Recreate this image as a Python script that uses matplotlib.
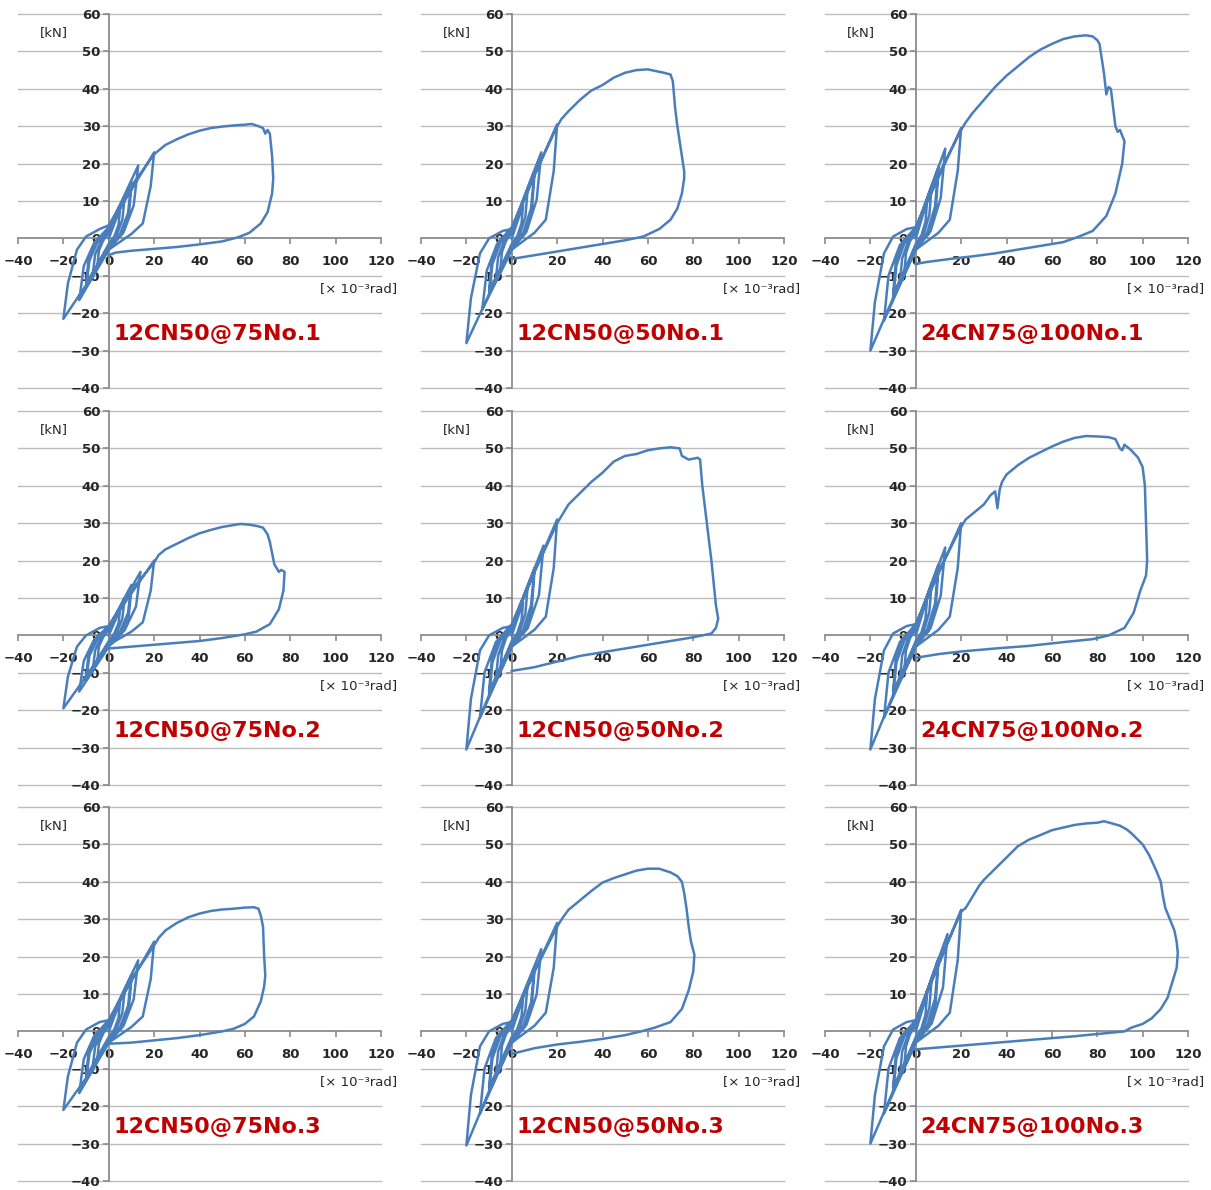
import matplotlib
matplotlib.use("Agg")
import matplotlib.pyplot as plt

# hysteresis curves: (rotation angle x10^-3 rad, load kN)
titles = ["12CN50@75No.1", "12CN50@50No.1", "24CN75@100No.1",
          "12CN50@75No.2", "12CN50@50No.2", "24CN75@100No.2",
          "12CN50@75No.3", "12CN50@50No.3", "24CN75@100No.3"]

xticks = [-40, -20, 0, 20, 40, 60, 80, 100, 120]
yticks = [-40, -30, -20, -10, 0, 10, 20, 30, 40, 50, 60]

a1 = [(0, 0), (5, 8), (4.3, 3.6), (2.5, 0.6), (0, -1.5), (-5, -7), (-4.3, -3.2), (-2.5, -0.6), (0, 1.5),
      (7, 11), (6, 5), (3.5, 0.9), (0, -2), (-7, -9.5), (-6, -4.3), (-3.5, -0.8), (0, 2),
      (10, 15), (8.5, 6.8), (5, 1.2), (0, -2.5), (-10, -13), (-8.5, -5.9), (-5, -1), (0, 2.5),
      (10, 14), (8.8, 6), (5.5, 1), (0, -2), (-10, -12), (-8.8, -5.2), (-5.5, -0.6), (0, 2.5),
      (13, 19.5), (11, 8.8), (6.5, 1.6), (0, -3), (-13, -16.5), (-11, -7.4), (-6.5, -1.3), (0, 3),
      (20, 23), (18.5, 14), (15, 4), (10, 1.2), (0, -3), (-10, -12.5), (-20, -21.5), (-18, -12),
      (-14, -3), (-10, 0.5), (-4, 2.5), (0, 3.5), (10, 14), (20, 22.5), (25, 25), (30, 26.5),
      (35, 27.8), (40, 28.8), (45, 29.5), (50, 29.9), (55, 30.2), (60, 30.4), (63, 30.6),
      (66, 30), (68, 29.5), (69, 28), (70, 29), (71, 28), (72, 22), (72.5, 16), (72, 12),
      (70, 7), (67, 4), (62, 1.5), (57, 0.3), (50, -0.8), (40, -1.6), (30, -2.3), (20, -2.8),
      (10, -3.3), (3, -3.8), (0, -4.5)]

b1 = [(0, 0), (5, 9), (4.3, 4), (2.5, 0.7), (0, -1.5), (-5, -8), (-4.3, -3.6), (-2.5, -0.6), (0, 1.5),
      (7, 13), (6, 5.8), (3.5, 1), (0, -2), (-7, -11), (-6, -5), (-3.5, -0.9), (0, 2),
      (10, 18), (8.5, 8), (5, 1.4), (0, -2.5), (-10, -15), (-8.5, -6.8), (-5, -1.2), (0, 2.5),
      (10, 17), (8.8, 7), (5.5, 1), (0, -2), (-10, -14), (-8.8, -6), (-5.5, -0.8), (0, 2.5),
      (13, 23), (11, 10.4), (6.5, 1.8), (0, -3), (-13, -19), (-11, -8.6), (-6.5, -1.5), (0, 3),
      (20, 30.5), (18.5, 18), (15, 5), (10, 1.5), (0, -3), (-10, -15), (-20, -28), (-18, -16),
      (-14, -4), (-10, 0), (-4, 2), (0, 2.5), (10, 17), (20, 30), (22, 32), (25, 34), (30, 37),
      (35, 39.5), (40, 41), (45, 43), (50, 44.3), (55, 45), (60, 45.2), (63, 44.8), (67, 44.3),
      (70, 43.8), (71, 42), (72, 35), (73, 30), (74.5, 24), (76, 18), (76, 16), (75, 12),
      (73, 8), (70, 5), (65, 2.5), (58, 0.5), (50, -0.5), (40, -1.5), (30, -2.5), (20, -3.5),
      (10, -4.5), (0, -5.5)]

c1 = [(0, 0), (5, 10), (4.3, 4.5), (2.5, 0.8), (0, -1.5), (-5, -9), (-4.3, -4), (-2.5, -0.7), (0, 1.5),
      (7, 14), (6, 6.3), (3.5, 1.1), (0, -2), (-7, -12), (-6, -5.4), (-3.5, -1), (0, 2),
      (10, 19), (8.5, 8.5), (5, 1.5), (0, -2.5), (-10, -16), (-8.5, -7.2), (-5, -1.3), (0, 2.5),
      (10, 18), (8.8, 7.5), (5.5, 1), (0, -2), (-10, -15), (-8.8, -6.4), (-5.5, -0.8), (0, 2.5),
      (13, 24), (11, 10.8), (6.5, 1.9), (0, -3), (-14, -22), (-12, -9.9), (-7, -1.8), (0, 3),
      (20, 29.5), (18.5, 18), (15, 5), (10, 1.5), (0, -3), (-10, -16), (-20, -30), (-18, -17),
      (-14, -4), (-10, 0.5), (-4, 2.5), (0, 3), (10, 17), (20, 29), (22, 31), (25, 33.5),
      (30, 37), (35, 40.5), (40, 43.5), (45, 46), (50, 48.5), (55, 50.5), (60, 52), (65, 53.3),
      (70, 54), (75, 54.3), (78, 54), (80, 53), (81, 52), (82, 48), (83, 44), (84, 38.5),
      (85, 40.5), (86, 40), (87, 35), (88, 30), (89, 28.5), (90, 29), (91, 27.5), (92, 26),
      (91, 20), (88, 12), (84, 6), (78, 2), (72, 0.5), (65, -1), (55, -2), (45, -3), (35, -4),
      (25, -4.8), (15, -5.5), (5, -6.3), (0, -6.8)]

a2 = [(0, 0), (5, 7), (4.3, 3.2), (2.5, 0.6), (0, -1.5), (-5, -6.5), (-4.3, -2.9), (-2.5, -0.5), (0, 1.5),
      (7, 10), (6, 4.5), (3.5, 0.8), (0, -2), (-7, -9), (-6, -4), (-3.5, -0.7), (0, 2),
      (10, 13.5), (8.5, 6), (5, 1.1), (0, -2.5), (-10, -12), (-8.5, -5.4), (-5, -1), (0, 2.5),
      (10, 12.5), (8.8, 5.2), (5.5, 0.8), (0, -2), (-10, -11), (-8.8, -4.6), (-5.5, -0.6), (0, 2),
      (14, 17), (12, 7.7), (7, 1.4), (0, -3), (-13, -15), (-11, -6.8), (-6.5, -1.2), (0, 2.5),
      (20, 20), (18.5, 12), (15, 3.5), (10, 1), (0, -2.5), (-10, -11), (-20, -19.5), (-18, -11),
      (-14, -3), (-10, 0), (-4, 2), (0, 2.5), (10, 12), (20, 19.5), (22, 21.5), (25, 23),
      (30, 24.5), (35, 26), (40, 27.3), (45, 28.2), (50, 29), (55, 29.5), (58, 29.8), (62, 29.6),
      (65, 29.3), (68, 28.8), (70, 27), (71, 25), (72, 22), (73, 19), (75, 17), (76, 17.5),
      (77.5, 17), (77, 12), (75, 7), (71, 3), (65, 1), (60, 0.3), (50, -0.7), (40, -1.5),
      (30, -2), (20, -2.5), (10, -3), (0, -3.5)]

b2 = [(0, 0), (5, 9), (4.3, 4), (2.5, 0.7), (0, -1.5), (-5, -9), (-4.3, -4), (-2.5, -0.7), (0, 1.5),
      (7, 13), (6, 5.8), (3.5, 1), (0, -2), (-7, -12), (-6, -5.4), (-3.5, -1), (0, 2),
      (10, 18), (8.5, 8), (5, 1.4), (0, -2.5), (-10, -16), (-8.5, -7.2), (-5, -1.3), (0, 2.5),
      (10, 17), (8.8, 7), (5.5, 1), (0, -2), (-10, -15), (-8.8, -6.4), (-5.5, -0.8), (0, 2.5),
      (14, 24), (12, 10.8), (7, 1.9), (0, -3), (-14, -22), (-12, -9.9), (-7, -1.8), (0, 3),
      (20, 31), (18.5, 18), (15, 5), (10, 1.5), (0, -3), (-10, -16), (-20, -30.5), (-18, -17),
      (-14, -4), (-10, 0), (-4, 2), (0, 2.5), (10, 17), (20, 30), (22, 32), (25, 35), (30, 38),
      (35, 41), (40, 43.5), (45, 46.5), (50, 48), (55, 48.5), (60, 49.5), (65, 50), (70, 50.3),
      (74, 50), (75, 48), (78, 47), (82, 47.5), (83, 47), (84, 40), (86, 30), (88, 20),
      (90, 8), (91, 4.5), (90, 2), (88, 0.5), (80, -0.5), (70, -1.5), (60, -2.5), (50, -3.5),
      (40, -4.5), (30, -5.5), (20, -7), (10, -8.5), (0, -9.5)]

c2 = [(0, 0), (5, 10), (4.3, 4.5), (2.5, 0.8), (0, -1.5), (-5, -9), (-4.3, -4), (-2.5, -0.7), (0, 1.5),
      (7, 14), (6, 6.3), (3.5, 1.1), (0, -2), (-7, -12), (-6, -5.4), (-3.5, -1), (0, 2),
      (10, 19), (8.5, 8.5), (5, 1.5), (0, -2.5), (-10, -16), (-8.5, -7.2), (-5, -1.3), (0, 2.5),
      (10, 18), (8.8, 7.5), (5.5, 1), (0, -2), (-10, -15), (-8.8, -6.4), (-5.5, -0.8), (0, 2.5),
      (13, 23.5), (11, 10.6), (6.5, 1.9), (0, -3), (-14, -22), (-12, -9.9), (-7, -1.8), (0, 3),
      (20, 30), (18.5, 18), (15, 5), (10, 1.5), (0, -3), (-10, -16), (-20, -30.5), (-18, -17),
      (-14, -4), (-10, 0.5), (-4, 2.5), (0, 3), (10, 17), (20, 29), (22, 31), (25, 32.5),
      (28, 34), (30, 35), (33, 37.5), (35, 38.5), (36, 34), (37, 39), (38, 41), (40, 43),
      (45, 45.5), (50, 47.5), (55, 49), (60, 50.5), (65, 51.8), (70, 52.8), (75, 53.3),
      (80, 53.2), (85, 53), (88, 52.5), (90, 50), (91, 49.5), (92, 51), (95, 49.5), (98, 47.5),
      (100, 45), (101, 40), (101.5, 30), (102, 20), (101.5, 16), (99, 12), (96, 6), (92, 2),
      (85, 0), (78, -1), (65, -1.8), (50, -2.8), (35, -3.5), (20, -4.3), (10, -5), (0, -6)]

a3 = [(0, 0), (5, 8), (4.3, 3.6), (2.5, 0.6), (0, -1.5), (-5, -7), (-4.3, -3.2), (-2.5, -0.6), (0, 1.5),
      (7, 11), (6, 5), (3.5, 0.9), (0, -2), (-7, -9), (-6, -4), (-3.5, -0.7), (0, 2),
      (10, 15), (8.5, 6.8), (5, 1.2), (0, -2.5), (-10, -13), (-8.5, -5.9), (-5, -1), (0, 2.5),
      (10, 14), (8.8, 6), (5.5, 1), (0, -2), (-10, -12), (-8.8, -5.2), (-5.5, -0.6), (0, 2.5),
      (13, 19), (11, 8.6), (6.5, 1.5), (0, -3), (-13, -16.5), (-11, -7.4), (-6.5, -1.3), (0, 3),
      (20, 24), (18.5, 14), (15, 4), (10, 1.2), (0, -3), (-10, -12.5), (-20, -21), (-18, -12),
      (-14, -3), (-10, 0.5), (-4, 2.5), (0, 3), (10, 14), (20, 23), (22, 25), (25, 27),
      (30, 29), (35, 30.5), (40, 31.5), (45, 32.2), (50, 32.6), (55, 32.8), (60, 33.1),
      (64, 33.2), (66, 32.8), (67, 31), (68, 28), (68.5, 20), (69, 15), (68.5, 12), (67, 8),
      (64, 4), (60, 2), (55, 0.7), (50, 0), (40, -1), (30, -1.8), (20, -2.4), (10, -3), (0, -3.3)]

b3 = [(0, 0), (5, 9), (4.3, 4), (2.5, 0.7), (0, -1.5), (-5, -8.5), (-4.3, -3.8), (-2.5, -0.7), (0, 1.5),
      (7, 12.5), (6, 5.6), (3.5, 1), (0, -2), (-7, -12), (-6, -5.4), (-3.5, -1), (0, 2),
      (10, 17), (8.5, 7.7), (5, 1.4), (0, -2.5), (-10, -16), (-8.5, -7.2), (-5, -1.3), (0, 2.5),
      (10, 16), (8.8, 6.8), (5.5, 1), (0, -2), (-10, -15), (-8.8, -6.4), (-5.5, -0.8), (0, 2.5),
      (13, 22), (11, 9.9), (6.5, 1.8), (0, -3), (-14, -22), (-12, -9.9), (-7, -1.8), (0, 3),
      (20, 29), (18.5, 17), (15, 5), (10, 1.5), (0, -3), (-10, -16), (-20, -30.5), (-18, -17),
      (-14, -4), (-10, 0), (-4, 2), (0, 2.5), (10, 16), (20, 28), (22, 30), (25, 32.5),
      (30, 35), (35, 37.5), (40, 39.8), (45, 41), (50, 42), (55, 43), (60, 43.5), (65, 43.5),
      (70, 42.5), (73, 41.5), (75, 40), (76, 37), (77, 33), (78, 28), (79, 24), (80.5, 20.5),
      (80, 16), (78, 11), (75, 6), (70, 2.5), (63, 1), (57, 0), (50, -1), (40, -2), (30, -2.8),
      (20, -3.5), (10, -4.5), (0, -6)]

c3 = [(0, 0), (5, 10), (4.3, 4.5), (2.5, 0.8), (0, -1.5), (-5, -9), (-4.3, -4), (-2.5, -0.7), (0, 1.5),
      (7, 14), (6, 6.3), (3.5, 1.1), (0, -2), (-7, -12), (-6, -5.4), (-3.5, -1), (0, 2),
      (10, 19.5), (8.5, 8.8), (5, 1.6), (0, -2.5), (-10, -16), (-8.5, -7.2), (-5, -1.3), (0, 2.5),
      (10, 18.5), (8.8, 7.8), (5.5, 1), (0, -2), (-10, -15), (-8.8, -6.4), (-5.5, -0.8), (0, 2.5),
      (14, 26), (12, 11.7), (7, 2.1), (0, -3), (-14, -22), (-12, -9.9), (-7, -1.8), (0, 3),
      (20, 32.5), (18.5, 19), (15, 5), (10, 1.5), (0, -3), (-10, -16), (-20, -30), (-18, -17),
      (-14, -4), (-10, 0.5), (-4, 2.5), (0, 3), (10, 18), (20, 32), (22, 33), (25, 36),
      (28, 39), (30, 40.5), (35, 43.5), (40, 46.5), (45, 49.5), (50, 51.3), (55, 52.5),
      (60, 53.8), (65, 54.5), (70, 55.2), (75, 55.6), (80, 55.8), (83, 56.2), (86, 55.7),
      (90, 55), (93, 54), (95, 53), (100, 50), (103, 47), (106, 43), (108, 40), (109, 36),
      (110, 33), (112, 30), (114, 27), (115, 24), (115.5, 21), (115, 17), (113, 13), (111, 9),
      (108, 6), (104, 3.5), (100, 2), (95, 1), (92, 0), (80, -0.7), (70, -1.3), (60, -1.8),
      (50, -2.3), (40, -2.8), (30, -3.3), (20, -3.8), (10, -4.3), (0, -4.8)]

curves = [a1, b1, c1, a2, b2, c2, a3, b3, c3]

line_col = "#4A7EBB"
grid_col = "#BDBDBD"
axis_col = "#8C8C8C"

fig = plt.figure(figsize=(12.11, 11.90), dpi=100)

lefts = [18 / 1211, 421 / 1211, 825 / 1211]
bottoms = [1 - 388 / 1190, 1 - 785 / 1190, 1 - 1181 / 1190]
w = 363 / 1211
h = 374 / 1190

for i, (pts, title) in enumerate(zip(curves, titles)):
    r, c = divmod(i, 3)
    ax = fig.add_axes([lefts[c], bottoms[r], w, h])
    xs = [p[0] for p in pts]
    ys = [p[1] for p in pts]
    ax.set_xlim(-40, 120)
    ax.set_ylim(-40, 60)
    for yv in yticks:
        if yv != 0:
            ax.axhline(yv, color=grid_col, lw=1.0, zorder=0, clip_on=False)
    ax.plot(xs, ys, color=line_col, lw=1.8, zorder=3, solid_joinstyle="round")

    for s in ["top", "right"]:
        ax.spines[s].set_visible(False)
    ax.spines["left"].set_position(("data", 0))
    ax.spines["bottom"].set_position(("data", 0))
    ax.spines["left"].set_color(axis_col)
    ax.spines["bottom"].set_color(axis_col)
    ax.spines["left"].set_linewidth(1.3)
    ax.spines["bottom"].set_linewidth(1.3)
    ax.set_xticks(xticks)
    ax.set_yticks(yticks)
    ax.tick_params(axis="y", direction="out", length=4, width=1.2, color=axis_col, pad=2,
                   labelsize=9.5)
    ax.tick_params(axis="x", direction="out", length=4, width=1.2, color=axis_col, pad=8,
                   labelsize=9.5)
    for lab in ax.get_xticklabels() + ax.get_yticklabels():
        lab.set_fontweight("bold")
        lab.set_color("#262626")
    ax.patch.set_alpha(0)

    ax.text(-24, 55, "[kN]", fontsize=9.5, color="#262626", ha="center", va="center")
    ax.text(93, -13.5, "[× 10⁻³rad]", fontsize=9.5, color="#262626", ha="left",
            va="center", clip_on=False)
    ax.text(2, -25.5, title, fontsize=16, fontweight="bold", color="#C00000",
            ha="left", va="center")

fig.savefig("out.png", dpi=100)
